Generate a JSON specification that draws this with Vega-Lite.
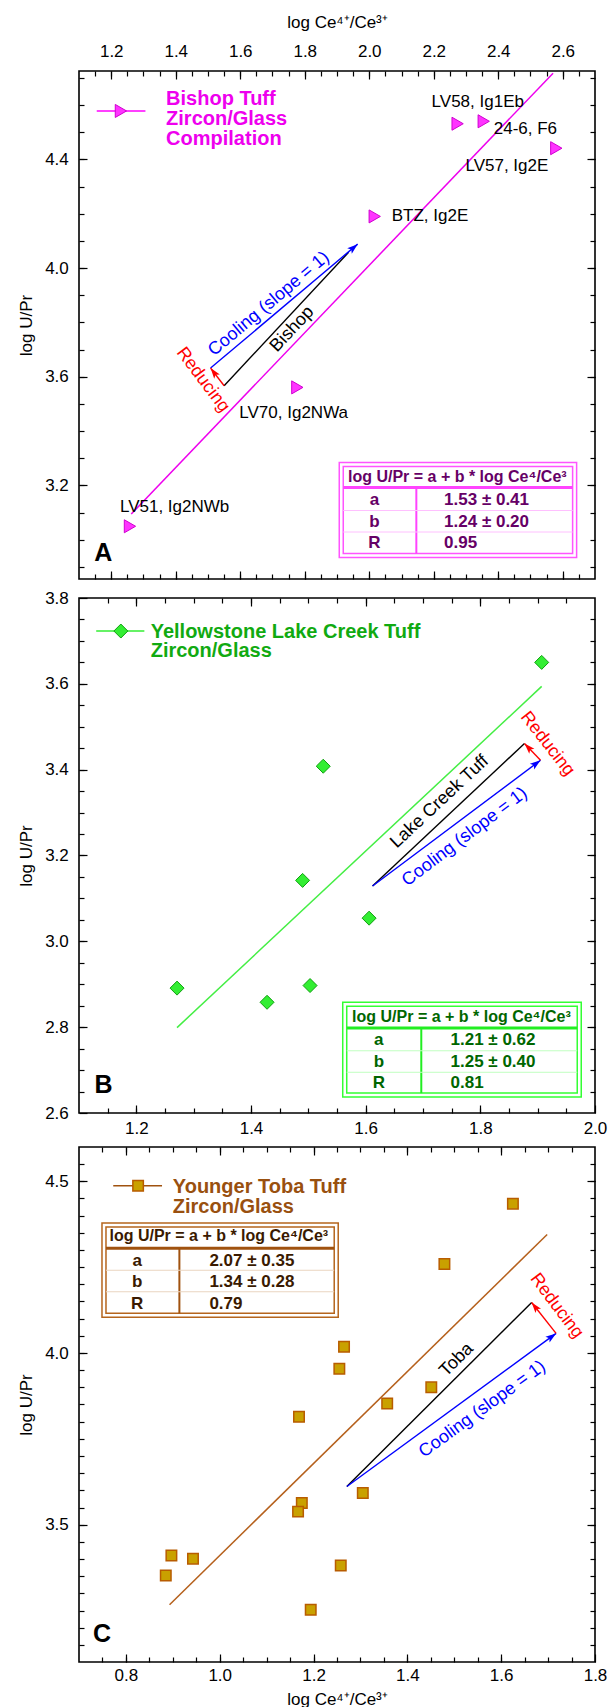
{
"$schema": "https://vega.github.io/schema/vega-lite/v6.json",
"background": "white",
"padding": {"left": 16, "top": 12, "right": 0, "bottom": 0},
"spacing": 7,
"config": {
 "font": "Liberation Sans",
 "view": {"stroke": "#000000", "strokeWidth": 1.6},
 "axis": {"domain": false, "grid": false, "tickColor": "#000000", "tickWidth": 1.2, "labelFontSize": 17, "labelColor": "#000000", "titleFontSize": 17, "titleFontWeight": "normal", "titleColor": "#000000", "labelFlush": false, "labelOverlap": false, "minExtent": 0}
},
"datasets": {
 "bishop": [
  {"sample": "LV58, Ig1Eb", "x": 2.274, "y": 4.531},
  {"sample": "24-6, F6", "x": 2.355, "y": 4.540},
  {"sample": "LV57, Ig2E", "x": 2.580, "y": 4.441},
  {"sample": "BTZ, Ig2E", "x": 2.017, "y": 4.190},
  {"sample": "LV70, Ig2NWa", "x": 1.777, "y": 3.561},
  {"sample": "LV51, Ig2NWb", "x": 1.258, "y": 3.050}
 ],
 "yellowstone": [
  {"x": 1.271, "y": 2.891}, {"x": 1.428, "y": 2.858}, {"x": 1.503, "y": 2.897},
  {"x": 1.490, "y": 3.142}, {"x": 1.526, "y": 3.408}, {"x": 1.606, "y": 3.054},
  {"x": 1.907, "y": 3.650}
 ],
 "toba": [
  {"x": 1.255, "y": 3.954}, {"x": 1.451, "y": 3.900}, {"x": 1.357, "y": 3.853},
  {"x": 1.169, "y": 3.814}, {"x": 1.305, "y": 3.592}, {"x": 1.175, "y": 3.563},
  {"x": 1.167, "y": 3.538}, {"x": 0.897, "y": 3.410}, {"x": 0.943, "y": 3.401},
  {"x": 0.885, "y": 3.352}, {"x": 1.258, "y": 3.381}, {"x": 1.194, "y": 3.252},
  {"x": 1.265, "y": 4.018}, {"x": 1.479, "y": 4.259}, {"x": 1.625, "y": 4.435}
 ],
 "fits": [
  {"panel": "A", "x": 1.262, "y": 3.095}, {"panel": "A", "x": 2.570, "y": 4.717},
  {"panel": "B", "x": 1.271, "y": 2.799}, {"panel": "B", "x": 1.907, "y": 3.594},
  {"panel": "C", "x": 0.893, "y": 3.267}, {"panel": "C", "x": 1.698, "y": 4.345}
 ],
 "arrows": [
  {"panel": "A", "seg": "trend", "end": "tail", "x": 1.550, "y": 3.567},
  {"panel": "A", "seg": "trend", "end": "tip", "x": 1.936, "y": 4.058},
  {"panel": "A", "seg": "cooling", "end": "tail", "x": 1.508, "y": 3.632},
  {"panel": "A", "seg": "cooling", "end": "tip", "x": 1.964, "y": 4.088},
  {"panel": "A", "seg": "reducing", "end": "tail", "x": 1.550, "y": 3.567},
  {"panel": "A", "seg": "reducing", "end": "tip", "x": 1.508, "y": 3.632},
  {"panel": "B", "seg": "trend", "end": "tail", "x": 1.612, "y": 3.129},
  {"panel": "B", "seg": "trend", "end": "tip", "x": 1.877, "y": 3.461},
  {"panel": "B", "seg": "cooling", "end": "tail", "x": 1.612, "y": 3.129},
  {"panel": "B", "seg": "cooling", "end": "tip", "x": 1.905, "y": 3.422},
  {"panel": "B", "seg": "reducing", "end": "tail", "x": 1.905, "y": 3.422},
  {"panel": "B", "seg": "reducing", "end": "tip", "x": 1.877, "y": 3.461},
  {"panel": "C", "seg": "trend", "end": "tail", "x": 1.271, "y": 3.611},
  {"panel": "C", "seg": "trend", "end": "tip", "x": 1.665, "y": 4.147},
  {"panel": "C", "seg": "cooling", "end": "tail", "x": 1.271, "y": 3.611},
  {"panel": "C", "seg": "cooling", "end": "tip", "x": 1.717, "y": 4.057},
  {"panel": "C", "seg": "reducing", "end": "tail", "x": 1.717, "y": 4.057},
  {"panel": "C", "seg": "reducing", "end": "tip", "x": 1.665, "y": 4.147}
 ],
 "tables": [
  {"panel": "A", "param": "a", "value": "1.53 ± 0.41"},
  {"panel": "A", "param": "b", "value": "1.24 ± 0.20"},
  {"panel": "A", "param": "R", "value": "0.95"},
  {"panel": "B", "param": "a", "value": "1.21 ± 0.62"},
  {"panel": "B", "param": "b", "value": "1.25 ± 0.40"},
  {"panel": "B", "param": "R", "value": "0.81"},
  {"panel": "C", "param": "a", "value": "2.07 ± 0.35"},
  {"panel": "C", "param": "b", "value": "1.34 ± 0.28"},
  {"panel": "C", "param": "R", "value": "0.79"}
 ]
},
"vconcat": [
 {
  "width": 516, "height": 508,
  "data": {"values": [{}]},
  "resolve": {"axis": {"x": "independent", "y": "independent"}},
  "layer": [
   {"data": {"name": "fits"}, "transform": [{"filter": "datum.panel === 'A'"}],
    "mark": {"type": "line", "color": "#ee00ee", "strokeWidth": 1.5},
    "encoding": {
     "x": {"field": "x", "type": "quantitative", "scale": {"domain": [1.1, 2.7], "nice": false, "zero": false}, "axis": {"orient": "top", "values": [1.15,1.2,1.25,1.3,1.35,1.4,1.45,1.5,1.55,1.6,1.65,1.7,1.75,1.8,1.85,1.9,1.95,2.0,2.05,2.1,2.15,2.2,2.25,2.3,2.35,2.4,2.45,2.5,2.55,2.6,2.65], "tickSize": -5, "labels": false, "title": null}},
     "y": {"field": "y", "type": "quantitative", "scale": {"domain": [2.856, 4.725], "nice": false, "zero": false}, "axis": {"orient": "left", "values": [2.9,3.0,3.1,3.2,3.3,3.4,3.5,3.6,3.7,3.8,3.9,4.0,4.1,4.2,4.3,4.4,4.5,4.6,4.7], "tickSize": -5, "labels": false, "title": null}}
    }},
   {"data": {"name": "arrows"}, "transform": [{"filter": "datum.panel === 'A'"}],
    "mark": {"type": "line", "strokeWidth": 1.4},
    "encoding": {
     "x": {"field": "x", "type": "quantitative", "axis": {"orient": "bottom", "values": [1.2,1.4,1.6,1.8,2.0,2.2,2.4,2.6], "tickSize": -8, "labels": false, "title": null}},
     "y": {"field": "y", "type": "quantitative", "axis": {"orient": "right", "values": [3.2,3.6,4.0,4.4], "tickSize": -8, "labels": false, "title": null}},
     "color": {"field": "seg", "type": "nominal", "scale": {"domain": ["trend", "cooling", "reducing"], "range": ["#000000", "#0000ff", "#ff0000"]}, "legend": null}
    }},
   {"data": {"name": "arrows"}, "transform": [{"filter": "datum.panel === 'A' && datum.seg === 'cooling' && datum.end === 'tip'"}],
    "mark": {"type": "point", "shape": "M0,0L0.6,1.8L0,1.4L-0.6,1.8Z", "size": 140, "filled": true, "color": "#0000ff", "strokeWidth": 0, "opacity": 1, "angle": 49.9},
    "encoding": {"x": {"field": "x", "type": "quantitative", "axis": null}, "y": {"field": "y", "type": "quantitative", "axis": null}}},
   {"data": {"name": "arrows"}, "transform": [{"filter": "datum.panel === 'A' && datum.seg === 'reducing' && datum.end === 'tip'"}],
    "mark": {"type": "point", "shape": "M0,0L0.6,1.8L0,1.4L-0.6,1.8Z", "size": 140, "filled": true, "color": "#ff0000", "strokeWidth": 0, "opacity": 1, "angle": -37.3},
    "encoding": {"x": {"field": "x", "type": "quantitative", "axis": null}, "y": {"field": "y", "type": "quantitative", "axis": null}}},
   {"mark": {"type": "text", "text": "Cooling (slope = 1)", "angle": -40, "fontSize": 18, "color": "#0000ff", "align": "center", "baseline": "middle"},
    "encoding": {"x": {"datum": 1.689, "type": "quantitative", "axis": null}, "y": {"datum": 3.868, "type": "quantitative", "axis": null}}},
   {"mark": {"type": "text", "text": "Bishop", "angle": -47, "fontSize": 18, "color": "#000000", "align": "center", "baseline": "middle"},
    "encoding": {"x": {"datum": 1.761, "type": "quantitative", "axis": null}, "y": {"datum": 3.775, "type": "quantitative", "axis": null}}},
   {"mark": {"type": "text", "text": "Reducing", "angle": 53, "fontSize": 18, "color": "#ff0000", "align": "center", "baseline": "middle"},
    "encoding": {"x": {"datum": 1.484, "type": "quantitative", "axis": null}, "y": {"datum": 3.589, "type": "quantitative", "axis": null}}},
   {"mark": {"type": "rect", "fill": "#ffffff", "stroke": "#ff55ff", "strokeWidth": 1.5},
    "encoding": {
     "x": {"datum": 1.907, "type": "quantitative", "axis": {"orient": "bottom", "values": [1.15,1.2,1.25,1.3,1.35,1.4,1.45,1.5,1.55,1.6,1.65,1.7,1.75,1.8,1.85,1.9,1.95,2.0,2.05,2.1,2.15,2.2,2.25,2.3,2.35,2.4,2.45,2.5,2.55,2.6,2.65], "tickSize": -5, "labels": false, "title": null}},
     "x2": {"datum": 2.643},
     "y": {"datum": 3.285, "type": "quantitative", "axis": {"orient": "right", "values": [2.9,3.0,3.1,3.2,3.3,3.4,3.5,3.6,3.7,3.8,3.9,4.0,4.1,4.2,4.3,4.4,4.5,4.6,4.7], "tickSize": -5, "labels": false, "title": null}},
     "y2": {"datum": 2.935}
    }},
   {"mark": {"type": "rect", "fillOpacity": 0, "stroke": "#ff55ff", "strokeWidth": 1.5, "xOffset": 4, "x2Offset": -4, "yOffset": 4, "y2Offset": -4},
    "encoding": {"x": {"datum": 1.907, "type": "quantitative", "axis": null}, "x2": {"datum": 2.643}, "y": {"datum": 3.285, "type": "quantitative", "axis": null}, "y2": {"datum": 2.935}}},
   {"mark": {"type": "rule", "color": "#ff44ff", "strokeWidth": 3, "xOffset": 4, "x2Offset": -4},
    "encoding": {"x": {"datum": 1.907, "type": "quantitative", "axis": null}, "x2": {"datum": 2.643}, "y": {"datum": 3.193, "type": "quantitative", "axis": null}}},
   {"mark": {"type": "rule", "color": "#ff44ff", "strokeWidth": 2, "y2Offset": -4},
    "encoding": {"x": {"datum": 2.146, "type": "quantitative", "axis": null}, "y": {"datum": 3.193, "type": "quantitative", "axis": null}, "y2": {"datum": 2.935}}},
   {"data": {"name": "tables"}, "transform": [{"filter": "datum.panel === 'A' && datum.param !== 'R'"}],
    "mark": {"type": "rule", "color": "#ffc0ff", "strokeWidth": 1, "xOffset": 4, "x2Offset": -4},
    "encoding": {"x": {"datum": 1.907, "type": "quantitative", "axis": null}, "x2": {"datum": 2.643}, "y": {"datum": 3.108, "type": "quantitative", "axis": null},
     "yOffset": {"field": "param", "type": "nominal", "scale": {"type": "point", "domain": ["a", "b", "R"], "range": [0, 43], "padding": 0}}}},
   {"mark": {"type": "text", "text": "log U/Pr = a + b * log Ce⁴/Ce³", "align": "center", "baseline": "middle", "fontSize": 16, "fontWeight": "bold", "color": "#660066"},
    "encoding": {"x": {"datum": 2.273, "type": "quantitative", "axis": null}, "y": {"datum": 3.233, "type": "quantitative", "axis": null}}},
   {"data": {"name": "tables"}, "transform": [{"filter": "datum.panel === 'A'"}],
    "mark": {"type": "text", "align": "center", "baseline": "middle", "fontSize": 17, "fontWeight": "bold", "color": "#660066"},
    "encoding": {"x": {"datum": 2.016, "type": "quantitative", "axis": null}, "y": {"datum": 3.146, "type": "quantitative", "axis": null},
     "yOffset": {"field": "param", "type": "nominal", "scale": {"type": "point", "domain": ["a", "b", "R"], "range": [0, 43], "padding": 0}},
     "text": {"field": "param"}}},
   {"data": {"name": "tables"}, "transform": [{"filter": "datum.panel === 'A'"}],
    "mark": {"type": "text", "align": "left", "baseline": "middle", "fontSize": 17, "fontWeight": "bold", "color": "#660066"},
    "encoding": {"x": {"datum": 2.232, "type": "quantitative", "axis": null}, "y": {"datum": 3.146, "type": "quantitative", "axis": null},
     "yOffset": {"field": "param", "type": "nominal", "scale": {"type": "point", "domain": ["a", "b", "R"], "range": [0, 43], "padding": 0}},
     "text": {"field": "value"}}},
   {"mark": {"type": "rule", "color": "#ff00ff", "strokeWidth": 1.5},
    "encoding": {"x": {"datum": 1.155, "type": "quantitative", "axis": null}, "x2": {"datum": 1.306}, "y": {"datum": 4.578, "type": "quantitative", "axis": null}}},
   {"mark": {"type": "point", "shape": "triangle-right", "filled": true, "size": 170, "color": "#ff33ff", "stroke": "#d000d0", "strokeWidth": 1, "opacity": 1},
    "encoding": {"x": {"datum": 1.23, "type": "quantitative", "axis": null}, "y": {"datum": 4.578, "type": "quantitative", "axis": null}}},
   {"mark": {"type": "text", "text": ["Bishop Tuff", "Zircon/Glass", "Compilation"], "align": "left", "baseline": "alphabetic", "fontSize": 20, "fontWeight": "bold", "lineHeight": 20, "color": "#ee00ee"},
    "encoding": {"x": {"datum": 1.370, "type": "quantitative", "axis": null}, "y": {"datum": 4.5985, "type": "quantitative", "axis": null}}},
   {"mark": {"type": "text", "text": "A", "align": "left", "baseline": "alphabetic", "fontSize": 25, "fontWeight": "bold", "color": "#000000"},
    "encoding": {"x": {"datum": 1.147, "type": "quantitative", "axis": null}, "y": {"datum": 2.924, "type": "quantitative", "axis": null}}},
   {"data": {"name": "bishop"},
    "mark": {"type": "point", "shape": "triangle-right", "filled": true, "size": 170, "color": "#ff33ff", "stroke": "#d000d0", "strokeWidth": 1, "opacity": 1},
    "encoding": {
     "x": {"field": "x", "type": "quantitative", "axis": {"orient": "top", "values": [1.2,1.4,1.6,1.8,2.0,2.2,2.4,2.6], "format": ".1f", "tickSize": -8, "labelPadding": 18.5, "title": "log Ce⁴⁺/Ce³⁺", "titlePadding": 11}},
     "y": {"field": "y", "type": "quantitative", "axis": {"orient": "left", "values": [3.2,3.6,4.0,4.4], "format": ".1f", "tickSize": -8, "labelPadding": 18.7, "title": "log U/Pr", "titlePadding": 9}}
    }},
   {"data": {"name": "bishop"}, "transform": [{"filter": "datum.sample === 'LV58, Ig1Eb'"}],
    "mark": {"type": "text", "align": "left", "baseline": "middle", "fontSize": 17, "dx": -26, "dy": -22, "color": "#000000"},
    "encoding": {"x": {"field": "x", "type": "quantitative", "axis": null}, "y": {"field": "y", "type": "quantitative", "axis": null}, "text": {"field": "sample"}}},
   {"data": {"name": "bishop"}, "transform": [{"filter": "datum.sample === '24-6, F6'"}],
    "mark": {"type": "text", "align": "left", "baseline": "middle", "fontSize": 17, "dx": 10, "dy": 8, "color": "#000000"},
    "encoding": {"x": {"field": "x", "type": "quantitative", "axis": null}, "y": {"field": "y", "type": "quantitative", "axis": null}, "text": {"field": "sample"}}},
   {"data": {"name": "bishop"}, "transform": [{"filter": "datum.sample === 'LV57, Ig2E'"}],
    "mark": {"type": "text", "align": "right", "baseline": "middle", "fontSize": 17, "dx": -8, "dy": 18, "color": "#000000"},
    "encoding": {"x": {"field": "x", "type": "quantitative", "axis": null}, "y": {"field": "y", "type": "quantitative", "axis": null}, "text": {"field": "sample"}}},
   {"data": {"name": "bishop"}, "transform": [{"filter": "datum.sample === 'BTZ, Ig2E'"}],
    "mark": {"type": "text", "align": "left", "baseline": "middle", "fontSize": 17, "dx": 17, "dy": 0, "color": "#000000"},
    "encoding": {"x": {"field": "x", "type": "quantitative", "axis": null}, "y": {"field": "y", "type": "quantitative", "axis": null}, "text": {"field": "sample"}}},
   {"data": {"name": "bishop"}, "transform": [{"filter": "datum.sample === 'LV70, Ig2NWa'"}],
    "mark": {"type": "text", "align": "left", "baseline": "middle", "fontSize": 17, "dx": -58, "dy": 26, "color": "#000000"},
    "encoding": {"x": {"field": "x", "type": "quantitative", "axis": null}, "y": {"field": "y", "type": "quantitative", "axis": null}, "text": {"field": "sample"}}},
   {"data": {"name": "bishop"}, "transform": [{"filter": "datum.sample === 'LV51, Ig2NWb'"}],
    "mark": {"type": "text", "align": "left", "baseline": "middle", "fontSize": 17, "dx": -10, "dy": -19, "color": "#000000"},
    "encoding": {"x": {"field": "x", "type": "quantitative", "axis": null}, "y": {"field": "y", "type": "quantitative", "axis": null}, "text": {"field": "sample"}}}
  ]
 },
 {
  "width": 516, "height": 515,
  "data": {"values": [{}]},
  "resolve": {"axis": {"x": "independent", "y": "independent"}},
  "layer": [
   {"data": {"name": "fits"}, "transform": [{"filter": "datum.panel === 'B'"}],
    "mark": {"type": "line", "color": "#44ee44", "strokeWidth": 1.5},
    "encoding": {
     "x": {"field": "x", "type": "quantitative", "scale": {"domain": [1.1, 2.0], "nice": false, "zero": false}, "axis": {"orient": "bottom", "values": [1.15,1.2,1.25,1.3,1.35,1.4,1.45,1.5,1.55,1.6,1.65,1.7,1.75,1.8,1.85,1.9,1.95], "tickSize": -5, "labels": false, "title": null}},
     "y": {"field": "y", "type": "quantitative", "scale": {"domain": [2.6, 3.8], "nice": false, "zero": false}, "axis": {"orient": "left", "values": [2.65,2.7,2.75,2.8,2.85,2.9,2.95,3.0,3.05,3.1,3.15,3.2,3.25,3.3,3.35,3.4,3.45,3.5,3.55,3.6,3.65,3.7,3.75], "tickSize": -5, "labels": false, "title": null}}
    }},
   {"data": {"name": "arrows"}, "transform": [{"filter": "datum.panel === 'B'"}],
    "mark": {"type": "line", "strokeWidth": 1.4},
    "encoding": {
     "x": {"field": "x", "type": "quantitative", "axis": {"orient": "top", "values": [1.2,1.4,1.6,1.8], "tickSize": -8, "labels": false, "title": null}},
     "y": {"field": "y", "type": "quantitative", "axis": {"orient": "right", "values": [2.8,3.0,3.2,3.4,3.6], "tickSize": -8, "labels": false, "title": null}},
     "color": {"field": "seg", "type": "nominal", "scale": {"domain": ["trend", "cooling", "reducing"], "range": ["#000000", "#0000ff", "#ff0000"]}, "legend": null}
    }},
   {"data": {"name": "arrows"}, "transform": [{"filter": "datum.panel === 'B' && datum.seg === 'cooling' && datum.end === 'tip'"}],
    "mark": {"type": "point", "shape": "M0,0L0.6,1.8L0,1.4L-0.6,1.8Z", "size": 140, "filled": true, "color": "#0000ff", "strokeWidth": 0, "opacity": 1, "angle": 53.1},
    "encoding": {"x": {"field": "x", "type": "quantitative", "axis": null}, "y": {"field": "y", "type": "quantitative", "axis": null}}},
   {"data": {"name": "arrows"}, "transform": [{"filter": "datum.panel === 'B' && datum.seg === 'reducing' && datum.end === 'tip'"}],
    "mark": {"type": "point", "shape": "M0,0L0.6,1.8L0,1.4L-0.6,1.8Z", "size": 140, "filled": true, "color": "#ff0000", "strokeWidth": 0, "opacity": 1, "angle": -43.8},
    "encoding": {"x": {"field": "x", "type": "quantitative", "axis": null}, "y": {"field": "y", "type": "quantitative", "axis": null}}},
   {"mark": {"type": "text", "text": "Lake Creek Tuff", "angle": -43, "fontSize": 18, "color": "#000000", "align": "center", "baseline": "middle"},
    "encoding": {"x": {"datum": 1.729, "type": "quantitative", "axis": null}, "y": {"datum": 3.325, "type": "quantitative", "axis": null}}},
   {"mark": {"type": "text", "text": "Cooling (slope = 1)", "angle": -37, "fontSize": 18, "color": "#0000ff", "align": "center", "baseline": "middle"},
    "encoding": {"x": {"datum": 1.773, "type": "quantitative", "axis": null}, "y": {"datum": 3.243, "type": "quantitative", "axis": null}}},
   {"mark": {"type": "text", "text": "Reducing", "angle": 52, "fontSize": 18, "color": "#ff0000", "align": "center", "baseline": "middle"},
    "encoding": {"x": {"datum": 1.917, "type": "quantitative", "axis": null}, "y": {"datum": 3.46, "type": "quantitative", "axis": null}}},
   {"mark": {"type": "rect", "fill": "#ffffff", "stroke": "#33ff33", "strokeWidth": 1.5},
    "encoding": {
     "x": {"datum": 1.560, "type": "quantitative", "axis": {"orient": "top", "values": [1.15,1.2,1.25,1.3,1.35,1.4,1.45,1.5,1.55,1.6,1.65,1.7,1.75,1.8,1.85,1.9,1.95], "tickSize": -5, "labels": false, "title": null}},
     "x2": {"datum": 1.976},
     "y": {"datum": 2.858, "type": "quantitative", "axis": {"orient": "right", "values": [2.65,2.7,2.75,2.8,2.85,2.9,2.95,3.0,3.05,3.1,3.15,3.2,3.25,3.3,3.35,3.4,3.45,3.5,3.55,3.6,3.65,3.7,3.75], "tickSize": -5, "labels": false, "title": null}},
     "y2": {"datum": 2.637}
    }},
   {"mark": {"type": "rect", "fillOpacity": 0, "stroke": "#33ff33", "strokeWidth": 1.5, "xOffset": 4, "x2Offset": -4, "yOffset": 4, "y2Offset": -4},
    "encoding": {"x": {"datum": 1.560, "type": "quantitative", "axis": null}, "x2": {"datum": 1.976}, "y": {"datum": 2.858, "type": "quantitative", "axis": null}, "y2": {"datum": 2.637}}},
   {"mark": {"type": "rule", "color": "#22ee22", "strokeWidth": 3, "xOffset": 4, "x2Offset": -4},
    "encoding": {"x": {"datum": 1.560, "type": "quantitative", "axis": null}, "x2": {"datum": 1.976}, "y": {"datum": 2.798, "type": "quantitative", "axis": null}}},
   {"mark": {"type": "rule", "color": "#22ee22", "strokeWidth": 2, "y2Offset": -4},
    "encoding": {"x": {"datum": 1.697, "type": "quantitative", "axis": null}, "y": {"datum": 2.798, "type": "quantitative", "axis": null}, "y2": {"datum": 2.637}}},
   {"data": {"name": "tables"}, "transform": [{"filter": "datum.panel === 'B' && datum.param !== 'R'"}],
    "mark": {"type": "rule", "color": "#c0ffc0", "strokeWidth": 1, "xOffset": 4, "x2Offset": -4},
    "encoding": {"x": {"datum": 1.560, "type": "quantitative", "axis": null}, "x2": {"datum": 1.976}, "y": {"datum": 2.745, "type": "quantitative", "axis": null},
     "yOffset": {"field": "param", "type": "nominal", "scale": {"type": "point", "domain": ["a", "b", "R"], "range": [0, 43], "padding": 0}}}},
   {"mark": {"type": "text", "text": "log U/Pr = a + b * log Ce⁴/Ce³", "align": "center", "baseline": "middle", "fontSize": 16, "fontWeight": "bold", "color": "#006600"},
    "encoding": {"x": {"datum": 1.767, "type": "quantitative", "axis": null}, "y": {"datum": 2.823, "type": "quantitative", "axis": null}}},
   {"data": {"name": "tables"}, "transform": [{"filter": "datum.panel === 'B'"}],
    "mark": {"type": "text", "align": "center", "baseline": "middle", "fontSize": 17, "fontWeight": "bold", "color": "#006600"},
    "encoding": {"x": {"datum": 1.623, "type": "quantitative", "axis": null}, "y": {"datum": 2.769, "type": "quantitative", "axis": null},
     "yOffset": {"field": "param", "type": "nominal", "scale": {"type": "point", "domain": ["a", "b", "R"], "range": [0, 43], "padding": 0}},
     "text": {"field": "param"}}},
   {"data": {"name": "tables"}, "transform": [{"filter": "datum.panel === 'B'"}],
    "mark": {"type": "text", "align": "left", "baseline": "middle", "fontSize": 17, "fontWeight": "bold", "color": "#006600"},
    "encoding": {"x": {"datum": 1.748, "type": "quantitative", "axis": null}, "y": {"datum": 2.769, "type": "quantitative", "axis": null},
     "yOffset": {"field": "param", "type": "nominal", "scale": {"type": "point", "domain": ["a", "b", "R"], "range": [0, 43], "padding": 0}},
     "text": {"field": "value"}}},
   {"mark": {"type": "rule", "color": "#33ee33", "strokeWidth": 1.5},
    "encoding": {"x": {"datum": 1.130, "type": "quantitative", "axis": null}, "x2": {"datum": 1.214}, "y": {"datum": 3.723, "type": "quantitative", "axis": null}}},
   {"mark": {"type": "point", "shape": "diamond", "filled": true, "size": 196, "color": "#33ee33", "stroke": "#10a010", "strokeWidth": 1, "opacity": 1},
    "encoding": {"x": {"datum": 1.173, "type": "quantitative", "axis": null}, "y": {"datum": 3.723, "type": "quantitative", "axis": null}}},
   {"mark": {"type": "text", "text": ["Yellowstone Lake Creek Tuff", "Zircon/Glass"], "align": "left", "baseline": "alphabetic", "fontSize": 20, "fontWeight": "bold", "lineHeight": 19, "color": "#11aa11"},
    "encoding": {"x": {"datum": 1.225, "type": "quantitative", "axis": null}, "y": {"datum": 3.706, "type": "quantitative", "axis": null}}},
   {"mark": {"type": "text", "text": "B", "align": "left", "baseline": "alphabetic", "fontSize": 25, "fontWeight": "bold", "color": "#000000"},
    "encoding": {"x": {"datum": 1.127, "type": "quantitative", "axis": null}, "y": {"datum": 2.647, "type": "quantitative", "axis": null}}},
   {"data": {"name": "yellowstone"},
    "mark": {"type": "point", "shape": "diamond", "filled": true, "size": 196, "color": "#33ee33", "stroke": "#10a010", "strokeWidth": 1, "opacity": 1},
    "encoding": {
     "x": {"field": "x", "type": "quantitative", "axis": {"orient": "bottom", "values": [1.2,1.4,1.6,1.8,2.0], "format": ".1f", "tickSize": -8, "labelPadding": 15.5, "title": null}},
     "y": {"field": "y", "type": "quantitative", "axis": {"orient": "left", "values": [2.6,2.8,3.0,3.2,3.4,3.6,3.8], "format": ".1f", "tickSize": -8, "labelPadding": 18.7, "title": "log U/Pr", "titlePadding": 9}}
    }}
  ]
 },
 {
  "width": 516, "height": 515,
  "data": {"values": [{}]},
  "resolve": {"axis": {"x": "independent", "y": "independent"}},
  "layer": [
   {"data": {"name": "fits"}, "transform": [{"filter": "datum.panel === 'C'"}],
    "mark": {"type": "line", "color": "#b5601c", "strokeWidth": 1.5},
    "encoding": {
     "x": {"field": "x", "type": "quantitative", "scale": {"domain": [0.7, 1.8], "nice": false, "zero": false}, "axis": {"orient": "bottom", "values": [0.75,0.8,0.85,0.9,0.95,1.0,1.05,1.1,1.15,1.2,1.25,1.3,1.35,1.4,1.45,1.5,1.55,1.6,1.65,1.7,1.75], "tickSize": -5, "labels": false, "title": null}},
     "y": {"field": "y", "type": "quantitative", "scale": {"domain": [3.1, 4.6], "nice": false, "zero": false}, "axis": {"orient": "left", "values": [3.15,3.2,3.25,3.3,3.35,3.4,3.45,3.5,3.55,3.6,3.65,3.7,3.75,3.8,3.85,3.9,3.95,4.0,4.05,4.1,4.15,4.2,4.25,4.3,4.35,4.4,4.45,4.5,4.55], "tickSize": -5, "labels": false, "title": null}}
    }},
   {"data": {"name": "arrows"}, "transform": [{"filter": "datum.panel === 'C'"}],
    "mark": {"type": "line", "strokeWidth": 1.4},
    "encoding": {
     "x": {"field": "x", "type": "quantitative", "axis": {"orient": "top", "values": [0.8,1.0,1.2,1.4,1.6], "tickSize": -8, "labels": false, "title": null}},
     "y": {"field": "y", "type": "quantitative", "axis": {"orient": "right", "values": [3.5,4.0,4.5], "tickSize": -8, "labels": false, "title": null}},
     "color": {"field": "seg", "type": "nominal", "scale": {"domain": ["trend", "cooling", "reducing"], "range": ["#000000", "#0000ff", "#ff0000"]}, "legend": null}
    }},
   {"data": {"name": "arrows"}, "transform": [{"filter": "datum.panel === 'C' && datum.seg === 'cooling' && datum.end === 'tip'"}],
    "mark": {"type": "point", "shape": "M0,0L0.6,1.8L0,1.4L-0.6,1.8Z", "size": 140, "filled": true, "color": "#0000ff", "strokeWidth": 0, "opacity": 1, "angle": 53.8},
    "encoding": {"x": {"field": "x", "type": "quantitative", "axis": null}, "y": {"field": "y", "type": "quantitative", "axis": null}}},
   {"data": {"name": "arrows"}, "transform": [{"filter": "datum.panel === 'C' && datum.seg === 'reducing' && datum.end === 'tip'"}],
    "mark": {"type": "point", "shape": "M0,0L0.6,1.8L0,1.4L-0.6,1.8Z", "size": 140, "filled": true, "color": "#ff0000", "strokeWidth": 0, "opacity": 1, "angle": -38.3},
    "encoding": {"x": {"field": "x", "type": "quantitative", "axis": null}, "y": {"field": "y", "type": "quantitative", "axis": null}}},
   {"mark": {"type": "text", "text": "Toba", "angle": -45, "fontSize": 18, "color": "#000000", "align": "center", "baseline": "middle"},
    "encoding": {"x": {"datum": 1.505, "type": "quantitative", "axis": null}, "y": {"datum": 3.98, "type": "quantitative", "axis": null}}},
   {"mark": {"type": "text", "text": "Cooling (slope = 1)", "angle": -36, "fontSize": 18, "color": "#0000ff", "align": "center", "baseline": "middle"},
    "encoding": {"x": {"datum": 1.560, "type": "quantitative", "axis": null}, "y": {"datum": 3.836, "type": "quantitative", "axis": null}}},
   {"mark": {"type": "text", "text": "Reducing", "angle": 53, "fontSize": 18, "color": "#ff0000", "align": "center", "baseline": "middle"},
    "encoding": {"x": {"datum": 1.718, "type": "quantitative", "axis": null}, "y": {"datum": 4.137, "type": "quantitative", "axis": null}}},
   {"mark": {"type": "rect", "fill": "#ffffff", "stroke": "#b5651d", "strokeWidth": 1.5},
    "encoding": {
     "x": {"datum": 0.749, "type": "quantitative", "axis": {"orient": "top", "values": [0.75,0.8,0.85,0.9,0.95,1.0,1.05,1.1,1.15,1.2,1.25,1.3,1.35,1.4,1.45,1.5,1.55,1.6,1.65,1.7,1.75], "tickSize": -5, "labels": false, "title": null}},
     "x2": {"datum": 1.2526},
     "y": {"datum": 4.379, "type": "quantitative", "axis": {"orient": "right", "values": [3.15,3.2,3.25,3.3,3.35,3.4,3.45,3.5,3.55,3.6,3.65,3.7,3.75,3.8,3.85,3.9,3.95,4.0,4.05,4.1,4.15,4.2,4.25,4.3,4.35,4.4,4.45,4.5,4.55], "tickSize": -5, "labels": false, "title": null}},
     "y2": {"datum": 4.104}
    }},
   {"mark": {"type": "rect", "fillOpacity": 0, "stroke": "#b5651d", "strokeWidth": 1.5, "xOffset": 4, "x2Offset": -4, "yOffset": 4, "y2Offset": -4},
    "encoding": {"x": {"datum": 0.749, "type": "quantitative", "axis": null}, "x2": {"datum": 1.2526}, "y": {"datum": 4.379, "type": "quantitative", "axis": null}, "y2": {"datum": 4.104}}},
   {"mark": {"type": "rule", "color": "#a0520f", "strokeWidth": 3, "xOffset": 4, "x2Offset": -4},
    "encoding": {"x": {"datum": 0.749, "type": "quantitative", "axis": null}, "x2": {"datum": 1.2526}, "y": {"datum": 4.305, "type": "quantitative", "axis": null}}},
   {"mark": {"type": "rule", "color": "#a0520f", "strokeWidth": 2, "y2Offset": -4},
    "encoding": {"x": {"datum": 0.914, "type": "quantitative", "axis": null}, "y": {"datum": 4.305, "type": "quantitative", "axis": null}, "y2": {"datum": 4.104}}},
   {"data": {"name": "tables"}, "transform": [{"filter": "datum.panel === 'C' && datum.param !== 'R'"}],
    "mark": {"type": "rule", "color": "#ead5c0", "strokeWidth": 1, "xOffset": 4, "x2Offset": -4},
    "encoding": {"x": {"datum": 0.749, "type": "quantitative", "axis": null}, "x2": {"datum": 1.2526}, "y": {"datum": 4.241, "type": "quantitative", "axis": null},
     "yOffset": {"field": "param", "type": "nominal", "scale": {"type": "point", "domain": ["a", "b", "R"], "range": [0, 43], "padding": 0}}}},
   {"mark": {"type": "text", "text": "log U/Pr = a + b * log Ce⁴/Ce³", "align": "center", "baseline": "middle", "fontSize": 16, "fontWeight": "bold", "color": "#3a1a00"},
    "encoding": {"x": {"datum": 0.998, "type": "quantitative", "axis": null}, "y": {"datum": 4.34, "type": "quantitative", "axis": null}}},
   {"data": {"name": "tables"}, "transform": [{"filter": "datum.panel === 'C'"}],
    "mark": {"type": "text", "align": "center", "baseline": "middle", "fontSize": 17, "fontWeight": "bold", "color": "#3a1a00"},
    "encoding": {"x": {"datum": 0.824, "type": "quantitative", "axis": null}, "y": {"datum": 4.269, "type": "quantitative", "axis": null},
     "yOffset": {"field": "param", "type": "nominal", "scale": {"type": "point", "domain": ["a", "b", "R"], "range": [0, 43], "padding": 0}},
     "text": {"field": "param"}}},
   {"data": {"name": "tables"}, "transform": [{"filter": "datum.panel === 'C'"}],
    "mark": {"type": "text", "align": "left", "baseline": "middle", "fontSize": 17, "fontWeight": "bold", "color": "#3a1a00"},
    "encoding": {"x": {"datum": 0.978, "type": "quantitative", "axis": null}, "y": {"datum": 4.269, "type": "quantitative", "axis": null},
     "yOffset": {"field": "param", "type": "nominal", "scale": {"type": "point", "domain": ["a", "b", "R"], "range": [0, 43], "padding": 0}},
     "text": {"field": "value"}}},
   {"mark": {"type": "rule", "color": "#a0520f", "strokeWidth": 1.5},
    "encoding": {"x": {"datum": 0.773, "type": "quantitative", "axis": null}, "x2": {"datum": 0.877}, "y": {"datum": 4.487, "type": "quantitative", "axis": null}}},
   {"mark": {"type": "point", "shape": "square", "filled": true, "size": 110, "color": "#c9a100", "stroke": "#b85c00", "strokeWidth": 1.5, "opacity": 1},
    "encoding": {"x": {"datum": 0.826, "type": "quantitative", "axis": null}, "y": {"datum": 4.487, "type": "quantitative", "axis": null}}},
   {"mark": {"type": "text", "text": ["Younger Toba Tuff", "Zircon/Glass"], "align": "left", "baseline": "alphabetic", "fontSize": 20, "fontWeight": "bold", "lineHeight": 19.5, "color": "#99500f"},
    "encoding": {"x": {"datum": 0.900, "type": "quantitative", "axis": null}, "y": {"datum": 4.466, "type": "quantitative", "axis": null}}},
   {"mark": {"type": "text", "text": "C", "align": "left", "baseline": "alphabetic", "fontSize": 25, "fontWeight": "bold", "color": "#000000"},
    "encoding": {"x": {"datum": 0.730, "type": "quantitative", "axis": null}, "y": {"datum": 3.158, "type": "quantitative", "axis": null}}},
   {"data": {"name": "toba"},
    "mark": {"type": "point", "shape": "square", "filled": true, "size": 110, "color": "#c9a100", "stroke": "#b85c00", "strokeWidth": 1.5, "opacity": 1},
    "encoding": {
     "x": {"field": "x", "type": "quantitative", "axis": {"orient": "bottom", "values": [0.8,1.0,1.2,1.4,1.6,1.8], "format": ".1f", "tickSize": -8, "labelPadding": 13.5, "title": "log Ce⁴⁺/Ce³⁺", "titlePadding": 8}},
     "y": {"field": "y", "type": "quantitative", "axis": {"orient": "left", "values": [3.5,4.0,4.5], "format": ".1f", "tickSize": -8, "labelPadding": 18.7, "title": "log U/Pr", "titlePadding": 9}}
    }}
  ]
 }
]
}
